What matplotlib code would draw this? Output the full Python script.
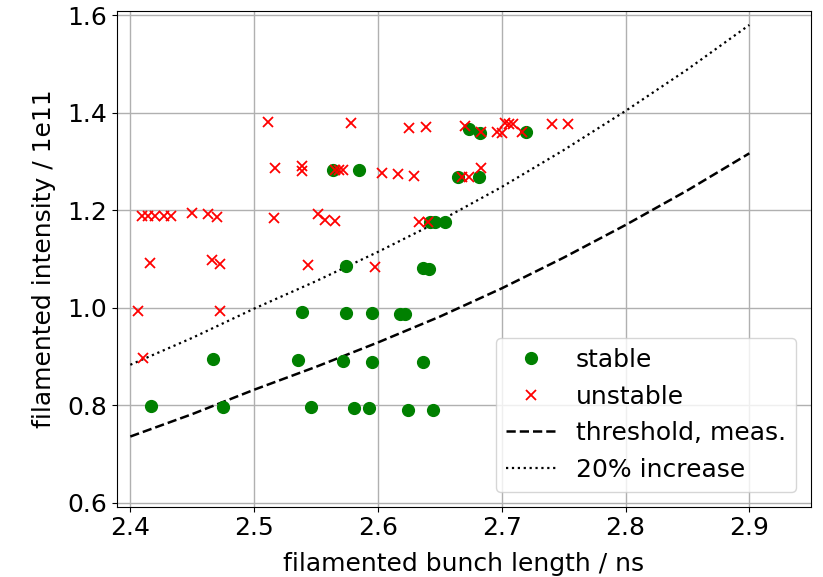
import matplotlib
matplotlib.use("Agg")
import matplotlib.pyplot as plt
import numpy as np

# stable points (bunch length ns, intensity 1e11)
stable_x = [2.5847, 2.564, 2.5742, 2.6421, 2.6461, 2.6542, 2.6367, 2.6415,
            2.6738, 2.6825, 2.7196, 2.6645, 2.6817,
            2.467, 2.5384, 2.5742, 2.5952, 2.6178, 2.6219,
            2.5352, 2.572, 2.5952, 2.6367,
            2.4167, 2.4746, 2.546, 2.5807, 2.5928, 2.6241, 2.6443]
stable_y = [1.283, 1.283, 1.0864, 1.1754, 1.1754, 1.1754, 1.082, 1.0796,
            1.366, 1.359, 1.360, 1.269, 1.269,
            0.8944, 0.9908, 0.9887, 0.9887, 0.9867, 0.9867,
            0.893, 0.8915, 0.889, 0.889,
            0.7986, 0.796, 0.796, 0.794, 0.794, 0.7904, 0.7904]

# unstable points
unstable_x = [2.5115, 2.578, 2.6251, 2.6389, 2.6706, 2.6833, 2.696, 2.7005,
              2.7027, 2.7061, 2.7094, 2.716, 2.7404, 2.7533,
              2.517, 2.539, 2.539, 2.5654, 2.5686, 2.5715, 2.603, 2.6165,
              2.6292, 2.6682, 2.6736, 2.683,
              2.4092, 2.414, 2.420, 2.4275, 2.4329, 2.4496, 2.4625, 2.4698,
              2.5163, 2.5519, 2.5573, 2.5654, 2.6332, 2.6407,
              2.4159, 2.4663, 2.4727, 2.5433, 2.5977,
              2.406, 2.4727, 2.4105]
unstable_y = [1.3805, 1.3785, 1.3682, 1.3715, 1.373, 1.3606, 1.361, 1.359,
              1.3785, 1.3764, 1.3764, 1.360, 1.3777, 1.3764,
              1.287, 1.291, 1.2806, 1.283, 1.283, 1.283, 1.277, 1.2745,
              1.271, 1.269, 1.269, 1.286,
              1.189, 1.189, 1.189, 1.189, 1.189, 1.194, 1.192, 1.1856,
              1.185, 1.192, 1.180, 1.178, 1.1754, 1.1754,
              1.0925, 1.098, 1.0898, 1.0878, 1.0843,
              0.9934, 0.9934, 0.8964]

thr_x = [2.40, 2.45, 2.50, 2.55, 2.60, 2.65, 2.70, 2.75, 2.80, 2.85, 2.90]
thr_y = [0.736, 0.782, 0.832, 0.879, 0.929, 0.982, 1.040, 1.103, 1.170, 1.241, 1.317]
increase = 1.2

FS = 18
fig = plt.figure(figsize=(8.23, 5.77), dpi=100)
ax = fig.add_axes([0.1418, 0.1218, 0.9854 - 0.1418, 0.9809 - 0.1218])

ax.plot(stable_x, stable_y, 'o', color='green', markersize=8.5, label='stable', zorder=3)
ax.plot(unstable_x, unstable_y, 'x', color='red', markersize=7.5, markeredgewidth=1.3,
        label='unstable', zorder=3)
ax.plot(thr_x, thr_y, '--', color='black', lw=1.8, label='threshold, meas.')
ax.plot(thr_x, [v * increase for v in thr_y], ':', color='black', lw=1.6,
        label='20% increase')

ax.set_xlim(2.389, 2.9498)
ax.set_ylim(0.592, 1.609)
ax.set_xticks([2.4, 2.5, 2.6, 2.7, 2.8, 2.9])
ax.set_yticks([0.6, 0.8, 1.0, 1.2, 1.4, 1.6])
ax.grid(True, color='#b0b0b0', lw=1.0)
ax.set_axisbelow(True)
ax.tick_params(labelsize=FS)
ax.set_xlabel('filamented bunch length / ns', fontsize=FS, labelpad=8.5)
ax.set_ylabel('filamented intensity / 1e11', fontsize=FS, labelpad=8)
ax.legend(loc='lower right', fontsize=FS, handlelength=2.0, borderaxespad=0.6)

fig.savefig('out.png', dpi=100)
